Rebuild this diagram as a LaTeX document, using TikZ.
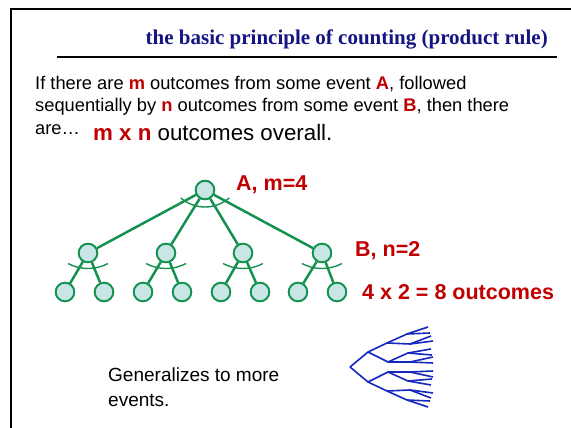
\documentclass[tikz,border=0pt]{standalone}
\usepackage{fontspec}
\setmainfont{Liberation Sans}
\newfontfamily\titlefont{Liberation Serif}
\usetikzlibrary{calc}
\definecolor{titleblue}{RGB}{20,20,130}
\definecolor{labred}{RGB}{192,0,0}
\definecolor{treegreen}{RGB}{20,145,80}
\definecolor{treefill}{RGB}{200,230,230}
\definecolor{fanblue}{RGB}{20,40,190}
\newcommand{\hl}[1]{\textbf{\color{labred}#1}}
\tikzset{
  outcome/.style={circle, draw=treegreen, fill=treefill, line width=1.8pt, minimum size=18.5pt, inner sep=0pt},
  branch/.style={treegreen, line width=2.5pt},
  sweep/.style={treegreen, line width=1.4pt},
  txt/.style={anchor=base west, inner sep=0pt, font=\fontsize{18.3}{22}\selectfont},
  lab/.style={anchor=base west, inner sep=0pt, text=labred, font=\bfseries\fontsize{21.5}{26}\selectfont}
}

\begin{document}
\begin{tikzpicture}[x=1pt, y=-1pt]
  \useasboundingbox (0,0) rectangle (571,428);
  \draw[line width=2.5pt] (571,9) -| (11,428);
  % title
  \node[anchor=base east, inner sep=0pt, text=titleblue, font=\titlefont\bfseries\fontsize{21}{25}\selectfont] (ttl) at (548,45) {the basic principle of counting (product rule)};
  \coordinate (ul) at (57,57);
  \coordinate (ur) at (557,57);
  \draw[line width=1.2pt] (ul) -- (ur);
  % text
  \node[txt] (l1) at (35,90) {If there are \hl{m} outcomes from some event \hl{A}, followed};
  \node[txt] (l2) at (35,112) {sequentially by \hl{n} outcomes from some event \hl{B}, then there};
  \node[txt] (l3) at (35,135) {are…};
  \node[txt, font=\fontsize{22.3}{26}\selectfont] (l4) at (93,140) {\hl{m x n} outcomes overall.};
  % green tree
  \node[outcome] (r) at (205,190) {};
  \foreach \i/\x in {1/88, 2/166, 3/243, 4/322} {
    \node[outcome] (a\i) at (\x,253) {};
    \draw[branch] (r) -- (a\i);
    \draw[sweep] ($(a\i)+(0,-27)+(118:42.5)$) arc[start angle=118, end angle=62, radius=42.5];
  }
  \foreach \j/\x in {1/65, 2/104, 3/143, 4/182, 5/221, 6/260, 7/298, 8/337} {
    \node[outcome] (b\j) at (\x,292) {};
  }
  \foreach \i/\j/\k in {1/1/2, 2/3/4, 3/5/6, 4/7/8} {
    \draw[branch] (a\i) -- (b\j);
    \draw[branch] (a\i) -- (b\k);
  }
  \draw[sweep] ($(r)+(0,-20)+(131:37)$) arc[start angle=131, end angle=49, radius=37];
  \node[outcome] at (r) {};
  \foreach \i in {1,...,4} {\node[outcome] at (a\i) {};}
  \foreach \j in {1,...,8} {\node[outcome] at (b\j) {};}
  \node[lab] (la) at (236,190) {A, m=4};
  \node[lab] (lb) at (355,256) {B, n=2};
  \node[lab] (lc) at (362,299) {4 x 2 = 8 outcomes};
  % more events
  \node[txt, font=\fontsize{19}{25}\selectfont, align=left, anchor=base west] (gen) at (108,406) {Generalizes to more\\events.};
  \foreach \s in {1,-1} {
    \begin{scope}[shift={(350,367)}, yscale=\s, fanblue, line width=1.6pt]
      \draw (0,0) -- (18,-15) -- (37,-24) -- (57,-33) -- (78,-40);
      \draw (57,-33) -- (80,-34);
      \draw (37,-24) -- (60,-23) -- (81,-31);
      \draw (60,-23) -- (83,-26);
      \draw (18,-15) -- (38,-5) -- (58,-14) -- (81,-18);
      \draw (58,-14) -- (82,-12);
      \draw (38,-5) -- (60,-5) -- (83,-10);
      \draw (60,-5) -- (83,-4);
    \end{scope}
  }
\end{tikzpicture}
\end{document}
